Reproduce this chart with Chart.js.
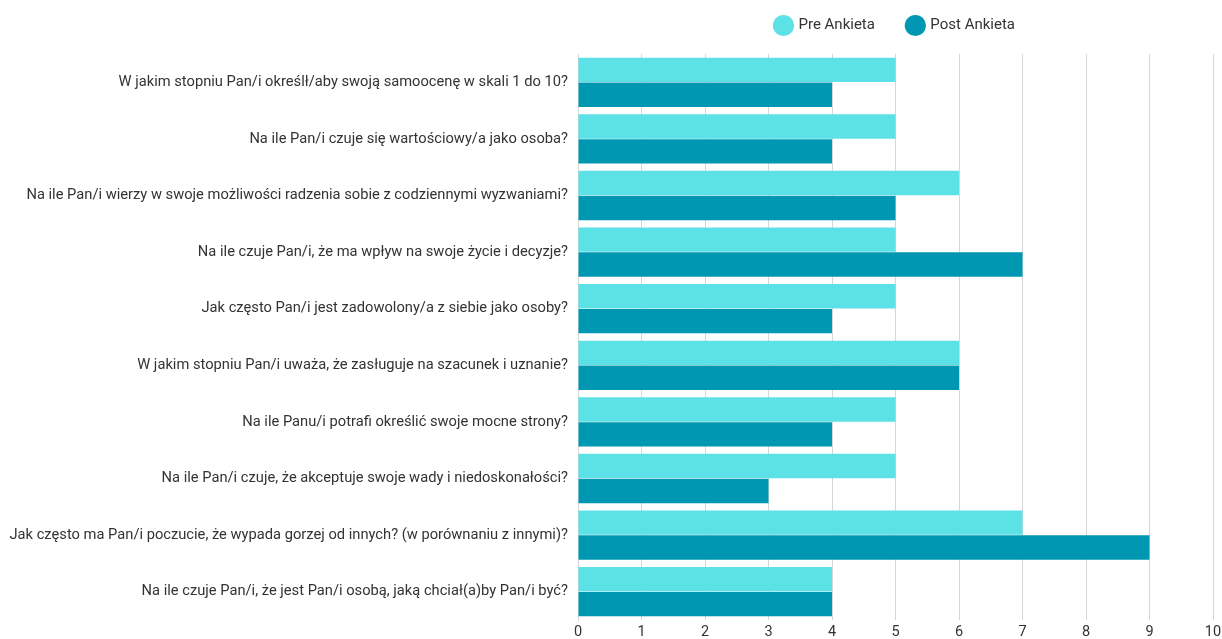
<!DOCTYPE html>
<html>
<head>
<meta charset="utf-8">
<script src="https://cdn.jsdelivr.net/npm/chart.js@4"></script>
<style>
  html, body { margin: 0; padding: 0; background: #fff; }
  #wrap { width: 1222px; height: 639px; position: relative; }
</style>
</head>
<body>
<div id="wrap"><canvas id="ankieta-grafica"></canvas></div>
<script>
const pytania = [
  'W jakim stopniu Pan/i określł/aby swoją samoocenę w skali 1 do 10?',
  'Na ile Pan/i czuje się wartościowy/a jako osoba?',
  'Na ile Pan/i wierzy w swoje możliwości radzenia sobie z codziennymi wyzwaniami?',
  'Na ile czuje Pan/i, że ma wpływ na swoje życie i decyzje?',
  'Jak często Pan/i jest zadowolony/a z siebie jako osoby?',
  'W jakim stopniu Pan/i uważa, że zasługuje na szacunek i uznanie?',
  'Na ile Panu/i potrafi określić swoje mocne strony?',
  'Na ile Pan/i czuje, że akceptuje swoje wady i niedoskonałości?',
  'Jak często ma Pan/i poczucie, że wypada gorzej od innych? (w porównaniu z innymi)?',
  'Na ile czuje Pan/i, że jest Pan/i osobą, jaką chciał(a)by Pan/i być?'
];
const preAnkieta = [5, 5, 6, 5, 5, 6, 5, 5, 7, 4];
const postAnkieta = [4, 4, 5, 7, 4, 6, 4, 3, 9, 4];
const skala = { min: 0, max: 10, krok: 1 };

(function(){
  const ctx = document.getElementById('ankieta-grafica').getContext('2d');
  const familia = 'Roboto, "Liberation Sans", sans-serif';

  // mas aire debajo de la leyenda
  const espacioLeyenda = {
    id: 'espacioLeyenda',
    afterInit(chart) {
      const fitOriginal = chart.legend.fit;
      chart.legend.fit = function() {
        fitOriginal.call(this);
        this.height += 11;
      };
    }
  };

  new Chart(ctx, {
    type: 'bar',
    data: {
      labels: pytania,
      datasets: [{
        label: 'Pre Ankieta',
        data: preAnkieta,
        backgroundColor: '#5ce1e6',
        borderWidth: 0
      }, {
        label: 'Post Ankieta',
        data: postAnkieta,
        backgroundColor: '#0097b2',
        borderWidth: 0
      }]
    },
    options: {
      indexAxis: 'y',
      responsive: true,
      maintainAspectRatio: false,
      animation: false,
      datasets: {
        bar: { categoryPercentage: 0.88, barPercentage: 0.98 }
      },
      layout: { padding: { top: 8, right: 0, bottom: 0, left: 0 } },
      scales: {
        x: {
          min: skala.min,
          max: skala.max,
          ticks: { stepSize: skala.krok, color: '#333', font: { family: familia, size: 14.5 }, padding: 4 },
          grid: { color: '#d6d6d6', drawTicks: false },
          border: { display: false },
          afterFit: function(scale){
            scale.height = 19;
            scale.paddingRight = 9;
          }
        },
        y: {
          ticks: { color: '#333', font: { family: familia, size: 14.7 }, padding: 10 },
          grid: { display: false, drawTicks: false },
          border: { display: true, color: '#d6d6d6' },
          afterFit: function(scale){ scale.width = 578; }
        }
      },
      plugins: {
        legend: {
          position: 'top',
          fullSize: false,
          labels: {
            usePointStyle: true,
            pointStyle: 'circle',
            boxWidth: 16,
            boxHeight: 16,
            padding: 10,
            color: '#333',
            font: { family: familia, size: 15 },
            generateLabels: function(chart){
              const items = Chart.defaults.plugins.legend.labels.generateLabels(chart);
              // separacion extra entre las dos entradas
              items[0].text = items[0].text + '\u2003\u2002';
              return items;
            }
          }
        },
        tooltip: { enabled: false }
      }
    },
    plugins: [espacioLeyenda]
  });
})();
</script>
</body>
</html>
